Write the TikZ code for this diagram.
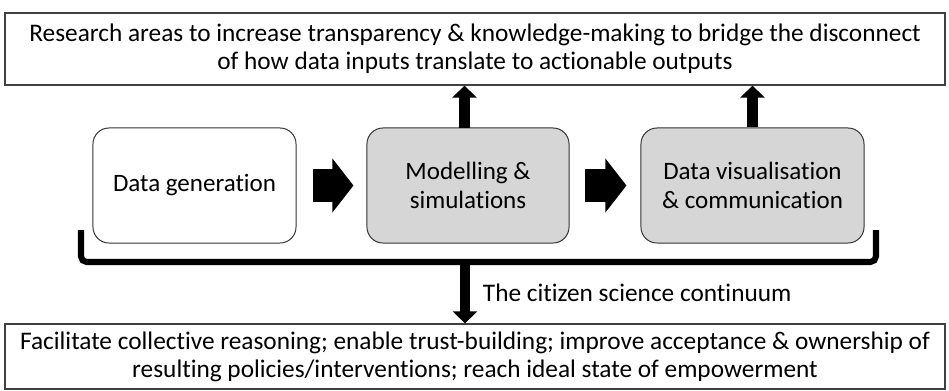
\documentclass[tikz,border=0pt]{standalone}
\usepackage{fontspec}
\setmainfont{Carlito}[Ligatures=CommonOff]
\usetikzlibrary{positioning, arrows.meta}

\begin{document}
\begin{tikzpicture}[x=0.025cm, y=-0.025cm,
    widebox/.style={draw=black!75, line width=0.9pt, minimum width=23.5cm, align=center, font=\fontsize{18}{20}\selectfont},
    stagebox/.style={draw=black!80, rounded corners=0.4cm, line width=0.7pt, minimum height=2.875cm, align=center, font=\fontsize{17.8}{21}\selectfont},
    blockarrow/.style={line width=24pt, -{Triangle[length=15pt, width=37.7pt]}},
    thinarrow/.style={line width=7.8pt, -{Triangle[length=8.5pt, width=17pt]}}]
\useasboundingbox (0,0) rectangle (949,390);
% outer boxes
\node[widebox, minimum height=1.8cm] (research) at (475,49) {Research areas to increase transparency \& knowledge-making to bridge the disconnect\\of how data inputs translate to actionable outputs};
\node[widebox, minimum height=1.625cm] (outcome) at (475,356.5) {Facilitate collective reasoning; enable trust-building; improve acceptance \& ownership of\\resulting policies/interventions; reach ideal state of empowerment};
% stages
\node[stagebox, fill=white, minimum width=5.075cm] (datagen) at (194.5,185.5) {Data generation};
\node[stagebox, fill=black!16, minimum width=5.05cm] (model) at (468,185.5) {Modelling \&\\simulations};
\node[stagebox, fill=black!16, minimum width=5.575cm] (visual) at (752.5,185.5) {Data visualisation\\\& communication};
\draw[blockarrow, shorten <=0.4cm, shorten >=0.325cm] (datagen.east) -- (model.west);
\draw[blockarrow, shorten <=0.375cm, shorten >=0.35cm] (model.west -| model.east) -- (visual.west);
\draw[thinarrow] (464.5,128) coordinate (upa) -- (upa |- research.south);
\draw[thinarrow] (visual.north) -- (visual.north |- research.south);
% continuum bracket
\draw[line width=4.3pt, rounded corners=4pt] (81,230) -- (81,262) -- (876,262) -- (876,230);
\coordinate (brk) at (465,262);
\draw[thinarrow] (brk) -- (brk |- outcome.north);
\node[anchor=west, font=\fontsize{18}{20}\selectfont] (continuum) at (478,293) {The citizen science continuum};
\end{tikzpicture}
\end{document}
